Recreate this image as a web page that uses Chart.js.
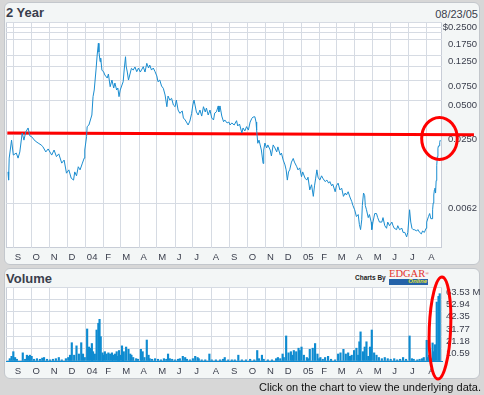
<!DOCTYPE html>
<html lang="en">
<head>
  <meta charset="UTF-8" />
  <title>2 Year</title>
  <script src="https://cdn.jsdelivr.net/npm/chart.js"></script>
  <style>
    body { margin: 0; background: #d7d7d7; font-family: "Liberation Sans", Arial, sans-serif; }
    #page { position: relative; width: 484px; height: 395px; overflow: hidden; }
    .panel { position: absolute; box-sizing: border-box; background: #f3f6f6; border: 1px solid #c3c7cc; border-radius: 6px; }
    .txt { position: absolute; color: #3a3e4c; white-space: nowrap; }
    canvas { position: absolute; left: 0; }
  </style>
</head>
<body>
  <div id="page">
    <div class="panel" style="left:4px;top:2px;width:476px;height:263px"></div>
    <div class="panel" style="left:4px;top:268px;width:476px;height:111px"></div>

    <div class="txt" style="left:6px;top:6px;font:bold 13px/13px 'Liberation Sans',Arial,sans-serif">2 Year</div>
    <div class="txt" style="right:6px;top:9px;font:11px/11px 'Liberation Sans',Arial,sans-serif">08/23/05</div>
    <div class="txt" style="left:6px;top:272px;font:bold 13px/13px 'Liberation Sans',Arial,sans-serif">Volume</div>

    <div class="txt" style="left:355px;top:274px;font:bold 6.5px/7px 'Liberation Sans',Arial,sans-serif;color:#222">Charts By</div>
    <div class="txt" style="left:389px;top:269px;font:10.5px/10px 'Liberation Serif',serif;color:#e3312d">EDGAR<span style="font-size:5px;vertical-align:top">&reg;</span></div>
    <div style="position:absolute;left:389px;top:279px;width:39px;height:6px;background:#2462a8">
      <span style="position:absolute;right:1px;top:-1px;font:italic bold 6px/7px 'Liberation Sans',Arial,sans-serif;color:#e4e33a">Online</span>
    </div>

    <canvas id="priceChart" width="484" height="268" style="top:0"></canvas>
    <canvas id="volChart" width="484" height="116" style="top:268px"></canvas>

    <div class="txt" style="right:3px;top:382px;font:11px/11px 'Liberation Sans',Arial,sans-serif;color:#111">Click on the chart to view the underlying data.</div>
  </div>

  <script>
    // days counted from 2003-08-23
    const monthDays = [9, 39, 70, 100, 131, 162, 191, 222, 252, 283, 313, 344,
                       375, 405, 436, 466, 497, 528, 556, 587, 617, 648, 678, 709];
    const monthLabels = ['S', 'O', 'N', 'D', '04', 'F', 'M', 'A', 'M', 'J', 'J', 'A',
                         'S', 'O', 'N', 'D', '05', 'F', 'M', 'A', 'M', 'J', 'J', 'A'];

    const priceTicks = [0.25, 0.225, 0.2, 0.175, 0.125, 0.1, 0.075, 0.05, 0.025, 0.0062];
    const priceTickLabels = ['$0.2500', '', '', '0.1750', '0.1250', '', '0.0750', '0.0500', '0.0250', '0.0062'];

    const volumeTicks = [0, 10.59, 21.18, 31.77, 42.35, 52.94, 63.53];
    const volumeTickLabels = ['', '10.59', '21.18', '31.77', '42.35', '52.94', '63.53 M'];

    const priceDays = [
      0, 1, 2, 6, 9, 14, 17, 20, 24, 27, 30, 34, 37, 40, 46, 51, 56, 59, 64, 68,
      74, 78, 82, 86, 91, 95, 99, 103, 107, 111, 113, 116, 119, 122, 126, 129, 130, 133, 134, 137,
      142, 144, 146, 149, 151, 153, 154, 156, 157, 159, 162, 164, 168, 170, 173, 176, 179, 181, 184, 186,
      188, 190, 193, 195, 197, 199, 200, 202, 204, 207, 209, 212, 215, 218, 221, 224, 227, 229, 232, 235,
      238, 240, 243, 246, 249, 252, 254, 257, 260, 263, 266, 269, 271, 274, 277, 280, 283, 285, 288, 291,
      295, 297, 300, 303, 305, 308, 311, 313, 315, 317, 319, 322, 325, 328, 331, 334, 336, 339, 342, 345,
      348, 350, 353, 356, 357, 359, 362, 365, 367, 371, 374, 376, 379, 383, 387, 389, 392, 396, 398, 401,
      404, 407, 410, 413, 415, 418, 420, 421, 423, 425, 427, 429, 432, 433, 435, 438, 440, 444, 446, 449,
      452, 455, 457, 461, 463, 466, 469, 471, 473, 475, 477, 480, 483, 485, 489, 491, 494, 497, 499, 503,
      506, 508, 511, 514, 517, 519, 521, 523, 525, 528, 531, 533, 537, 540, 543, 545, 548, 550, 554, 556,
      559, 562, 565, 568, 571, 573, 576, 579, 582, 584, 587, 590, 593, 595, 597, 599, 600, 602, 604, 605,
      607, 610, 612, 615, 616, 618, 621, 624, 626, 629, 633, 635, 638, 641, 643, 646, 650, 652, 654, 658,
      660, 663, 667, 669, 672, 675, 677, 680, 682, 684, 686, 688, 692, 694, 697, 700, 702, 705, 708, 709,
      712, 714, 716, 718, 719, 720, 721, 722, 723, 724, 725, 726, 727, 728, 729, 730, 731, 732
    ];
    const priceValues = [
      0.0117, 0.0099, 0.0155, 0.0224, 0.0165, 0.0172, 0.0155, 0.0176, 0.0259, 0.0224, 0.0264, 0.0287, 0.0244, 0.0240, 0.0220, 0.0211, 0.0203, 0.0196, 0.0176, 0.0187,
      0.0165, 0.0183, 0.0160, 0.0169, 0.0140, 0.0149, 0.0114, 0.0122, 0.0103, 0.0099, 0.0117, 0.0108, 0.0130, 0.0122, 0.0140, 0.0155, 0.0183, 0.0240, 0.0295, 0.0305,
      0.0374, 0.0544, 0.0623, 0.0937, 0.1274, 0.1618, 0.1355, 0.1111, 0.1198, 0.0937, 0.0900, 0.0847, 0.0796, 0.0864, 0.0667, 0.0764, 0.0649, 0.0719, 0.0623, 0.0649,
      0.0544, 0.0623, 0.0690, 0.0738, 0.0977, 0.1230, 0.1018, 0.0900, 0.0764, 0.0882, 0.0971, 0.0937, 0.0997, 0.0906, 0.0977, 0.0900, 0.0957, 0.1003, 0.0900, 0.1075,
      0.0977, 0.1038, 0.0937, 0.0977, 0.0906, 0.0830, 0.0738, 0.0764, 0.0676, 0.0645, 0.0563, 0.0443, 0.0551, 0.0508, 0.0526, 0.0459, 0.0443, 0.0508, 0.0414, 0.0387,
      0.0406, 0.0352, 0.0338, 0.0318, 0.0305, 0.0331, 0.0387, 0.0459, 0.0508, 0.0450, 0.0398, 0.0374, 0.0414, 0.0366, 0.0443, 0.0398, 0.0431, 0.0374, 0.0414, 0.0352,
      0.0338, 0.0389, 0.0400, 0.0450, 0.0398, 0.0450, 0.0366, 0.0326, 0.0338, 0.0318, 0.0324, 0.0305, 0.0318, 0.0305, 0.0333, 0.0299, 0.0311, 0.0259, 0.0287, 0.0270,
      0.0295, 0.0275, 0.0324, 0.0350, 0.0359, 0.0361, 0.0324, 0.0275, 0.0210, 0.0224, 0.0203, 0.0183, 0.0139, 0.0183, 0.0211, 0.0191, 0.0203, 0.0183, 0.0162, 0.0203,
      0.0191, 0.0176, 0.0195, 0.0165, 0.0172, 0.0149, 0.0135, 0.0122, 0.0099, 0.0117, 0.0122, 0.0143, 0.0154, 0.0143, 0.0130, 0.0122, 0.0127, 0.0106, 0.0117, 0.0103,
      0.0099, 0.0105, 0.0081, 0.0090, 0.0071, 0.0088, 0.0103, 0.0122, 0.0105, 0.0099, 0.0108, 0.0103, 0.0096, 0.0099, 0.0093, 0.0096, 0.0088, 0.0091, 0.0078, 0.0088,
      0.0093, 0.0081, 0.0084, 0.0071, 0.0076, 0.0073, 0.0078, 0.0070, 0.0064, 0.0059, 0.0054, 0.0047, 0.0049, 0.0040, 0.0036, 0.0044, 0.0059, 0.0076, 0.0072, 0.0059,
      0.0054, 0.0046, 0.0049, 0.0042, 0.0036, 0.0042, 0.0050, 0.0050, 0.0046, 0.0042, 0.0042, 0.0046, 0.0039, 0.0037, 0.0042, 0.0039, 0.0042, 0.0039, 0.0037, 0.0036,
      0.0039, 0.0036, 0.0037, 0.0034, 0.0034, 0.0031, 0.0034, 0.0054, 0.0042, 0.0037, 0.0036, 0.0036, 0.0035, 0.0036, 0.0034, 0.0033, 0.0035, 0.0034, 0.0037, 0.0042,
      0.0047, 0.0050, 0.0045, 0.0045, 0.0054, 0.0062, 0.0073, 0.0081, 0.0084, 0.0076, 0.0098, 0.0134, 0.0160, 0.0190, 0.0199, 0.0199, 0.0214, 0.0224
    ];

    // volume in millions of shares
    const volumeDays = [
      3, 6, 9, 12, 15, 25, 29, 32, 35, 37, 40, 44, 49, 54, 58, 61, 66, 71, 76, 81,
      86, 91, 98, 102, 105, 108, 112, 116, 120, 124, 127, 130, 134, 137, 140, 142, 144, 147, 150, 153,
      155, 157, 160, 161, 164, 167, 170, 173, 176, 178, 181, 184, 186, 188, 190, 193, 195, 196, 200, 204,
      207, 209, 212, 217, 220, 225, 228, 231, 235, 238, 240, 244, 249, 254, 259, 264, 268, 271, 274, 278,
      283, 288, 291, 296, 300, 303, 308, 313, 317, 321, 323, 328, 334, 341, 345, 352, 359, 364, 367, 373,
      379, 384, 390, 396, 403, 410, 417, 422, 425, 430, 433, 440, 447, 454, 457, 461, 465, 467, 471, 475,
      479, 482, 484, 488, 492, 494, 497, 501, 506, 508, 511, 516, 520, 524, 527, 529, 533, 537, 542, 547,
      554, 559, 563, 568, 572, 576, 579, 582, 586, 590, 593, 595, 597, 601, 604, 607, 610, 613, 616, 620,
      624, 628, 633, 638, 643, 648, 654, 659, 664, 669, 674, 680, 684, 687, 693, 697, 701, 704, 709, 711,
      713, 716, 719, 721, 723, 726, 729, 731
    ];
    const volumeValues = [
      2, 4, 8, 3, 1.5, 7, 1.5, 5, 4, 5, 4, 1.5, 2, 1.5, 2.5, 3, 1.5, 1, 1.5, 2,
      3, 1, 2, 3, 5, 15.7, 5, 13, 6, 15.7, 6, 3, 27.5, 12, 11, 15, 8, 6, 26.6, 32.4,
      35.8, 20.9, 7, 5, 8, 6, 7, 6, 7, 5, 6, 8, 4, 9, 5, 13, 6, 8, 12, 10,
      6, 5, 3, 2, 1.5, 10, 8, 3, 18, 5, 2, 1.5, 2, 1.5, 1, 2, 1.5, 6, 2, 1.5,
      1, 1.5, 2, 4, 3, 1.5, 1, 2, 4, 3, 2, 1, 1, 6, 1, 1, 1, 1.5, 3, 1,
      1, 1, 5, 1, 1, 1.5, 1, 9, 2, 5, 1.5, 1, 1, 2, 3, 2, 6, 3, 21.5, 7,
      8, 5, 9, 8, 11, 9, 12, 5, 3, 2, 10, 11, 15, 6, 2, 3, 1.5, 3, 4, 1.5,
      1, 6, 7, 10, 6, 7, 4, 5, 9, 11, 5, 16.5, 25, 8, 12, 16.5, 4, 12, 26.6, 7,
      5, 3, 2, 3, 2, 1.5, 2, 1, 1.5, 3, 1.5, 21.5, 2, 1.5, 1, 1.5, 2, 3, 17.8, 3,
      5, 2, 15.5, 8, 14, 50.6, 55.5, 57.8
    ];

    // hand-drawn red marks on the picture
    const trendLineDays = [-1.2, 789];
    const trendLineValues = [0.0259, 0.02505];
    const priceCircle = { day: 730.6, value: 0.0232 };
    const volumeCircle = { day: 731.5, value: 28.3 };

    const tickFont = { family: "'Liberation Sans', Arial, sans-serif", size: 9.5 };
    const tickColor = '#3a3e4c';
    const gridColor = '#d6dbe3';

    const plotFrame = {
      id: 'plotFrame',
      beforeDraw(chart) {
        const { ctx, chartArea: a } = chart;
        ctx.save();
        ctx.fillStyle = '#ffffff';
        ctx.fillRect(a.left, a.top, a.width, a.height);
        ctx.strokeStyle = '#c8cdd7';
        ctx.lineWidth = 1;
        ctx.strokeRect(a.left + 0.5, a.top + 0.5, a.width - 1, a.height - 1);
        ctx.restore();
      }
    };

    const redCircle = {
      id: 'redCircle',
      afterDatasetsDraw(chart, args, opts) {
        const ctx = chart.ctx;
        const x = chart.scales.x.getPixelForValue(opts.day);
        const y = chart.scales.y.getPixelForValue(opts.value);
        ctx.save();
        ctx.strokeStyle = '#ff0000';
        ctx.lineWidth = 3;
        ctx.beginPath();
        ctx.ellipse(x, y, opts.rx, opts.ry, opts.rot || 0, 0, Math.PI * 2);
        ctx.stroke();
        ctx.restore();
      }
    };

    function monthAxis(height, pad) {
      return {
        type: 'linear',
        min: -3.4,
        max: 734.9,
        bounds: 'data',
        offset: false,
        afterBuildTicks: s => { s.ticks = monthDays.map(v => ({ value: v })); },
        afterFit: s => { s.height = height; },
        grid: { color: gridColor, drawTicks: false, offset: false },
        border: { display: false },
        ticks: {
          autoSkip: false, maxRotation: 0, align: 'start', labelOffset: 1.5, padding: pad,
          font: tickFont, color: tickColor,
          callback: (v, i) => monthLabels[i]
        }
      };
    }

    new Chart(document.getElementById('priceChart'), {
      type: 'line',
      data: {
        datasets: [{
          data: priceDays.map((d, i) => ({ x: d, y: priceValues[i] })),
          borderColor: '#1b8dd0',
          borderWidth: 1,
          pointRadius: 0,
          tension: 0
        }, {
          data: trendLineDays.map((d, i) => ({ x: d, y: trendLineValues[i] })),
          borderColor: '#ff0000',
          borderWidth: 3,
          pointRadius: 0,
          clip: false
        }]
      },
      options: {
        responsive: false,
        animation: false,
        devicePixelRatio: 1,
        layout: { padding: { left: 6, top: 22, right: 7, bottom: 0 } },
        plugins: {
          legend: { display: false },
          tooltip: { enabled: false },
          redCircle: { day: priceCircle.day, value: priceCircle.value, rx: 17.8, ry: 21 }
        },
        scales: {
          x: monthAxis(20, 4),
          y: {
            type: 'logarithmic',
            position: 'right',
            min: 0.002473,
            max: 0.25,
            bounds: 'data',
            afterBuildTicks: s => { s.ticks = priceTicks.map(v => ({ value: v })); },
            afterFit: s => { s.width = 35; },
            grid: { color: gridColor, drawTicks: false },
            border: { display: false },
            ticks: {
              autoSkip: false, crossAlign: 'far', padding: 0, labelOffset: 5,
              font: tickFont, color: tickColor,
              callback: (v, i) => priceTickLabels[i]
            }
          }
        }
      },
      plugins: [plotFrame, redCircle]
    });

    new Chart(document.getElementById('volChart'), {
      type: 'bar',
      data: {
        datasets: [{
          data: volumeDays.map((d, i) => ({ x: d, y: volumeValues[i] })),
          backgroundColor: '#0e8bd0',
          borderWidth: 0,
          barThickness: 1.5
        }]
      },
      options: {
        responsive: false,
        animation: false,
        devicePixelRatio: 1,
        layout: { padding: { left: 6, top: 19, right: 0, bottom: 0 } },
        plugins: {
          legend: { display: false },
          tooltip: { enabled: false },
          redCircle: { day: volumeCircle.day, value: volumeCircle.value, rx: 10.7, ry: 51, rot: 0.04 }
        },
        scales: {
          x: Object.assign(monthAxis(23, 5), { border: { display: true, color: '#0e8bd0' } }),
          y: {
            type: 'linear',
            position: 'right',
            min: 0,
            max: 63.53,
            bounds: 'data',
            afterBuildTicks: s => { s.ticks = volumeTicks.map(v => ({ value: v })); },
            afterFit: s => { s.width = 42; },
            grid: { color: gridColor, drawTicks: false },
            border: { display: false },
            ticks: {
              autoSkip: false, crossAlign: 'near', padding: 4, labelOffset: 5,
              font: tickFont, color: tickColor,
              callback: (v, i) => volumeTickLabels[i]
            }
          }
        }
      },
      plugins: [plotFrame, redCircle]
    });
  </script>
</body>
</html>
